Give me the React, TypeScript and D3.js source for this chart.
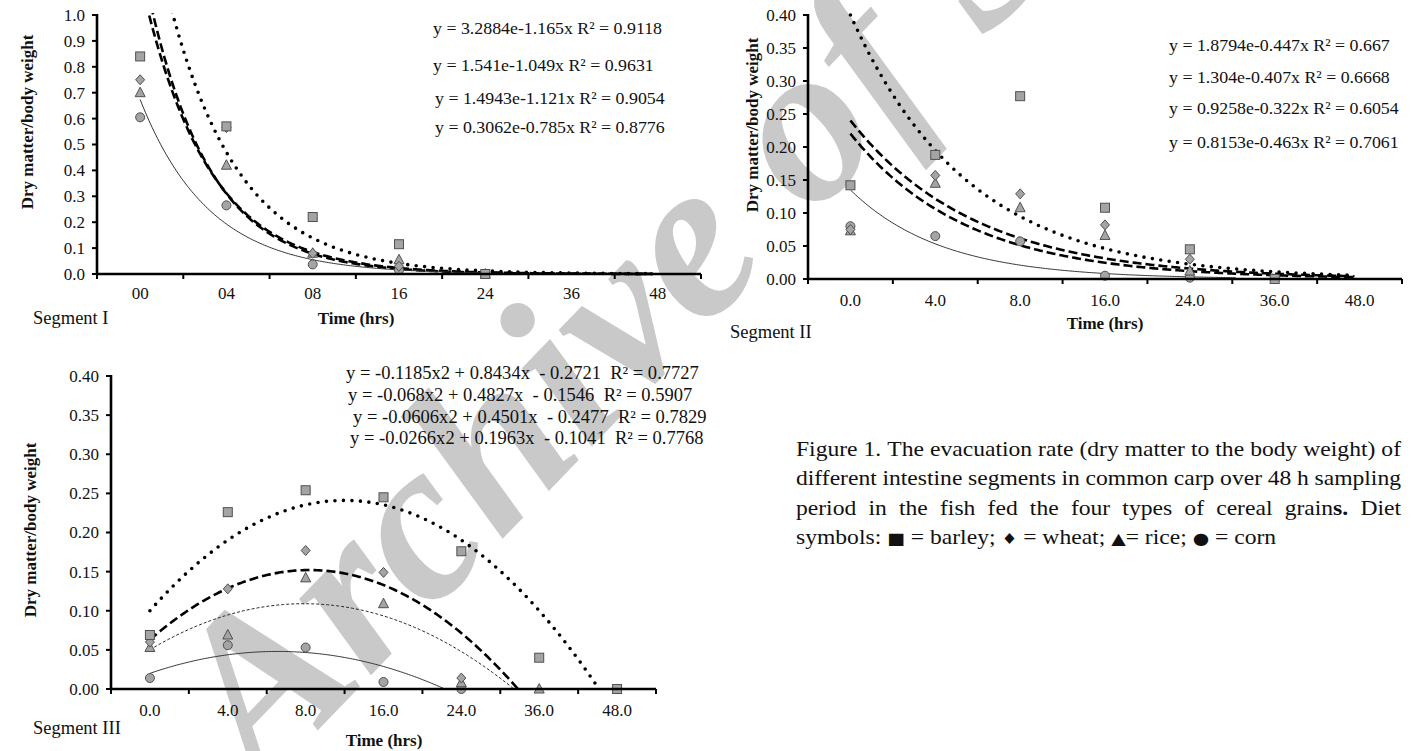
import React, { useLayoutEffect, useRef } from "react";
import * as d3 from "d3";

// ---------- DATA ----------
const catsI = ["00", "04", "08", "16", "24", "36", "48"];
const catsII = ["0.0", "4.0", "8.0", "16.0", "24.0", "36.0", "48.0"];

// Segment I observations (dry matter / body weight)
const barleyI = [0.84, 0.57, 0.22, 0.115, 0.0, null, null];
const wheatI = [0.75, 0.565, 0.08, 0.03, 0.0, null, null];
const riceI = [0.70, 0.42, 0.08, 0.055, 0.0, null, null];
const cornI = [0.605, 0.265, 0.037, 0.015, null, null, null];

// Segment II observations
const barleyII = [0.142, 0.188, 0.277, 0.108, 0.045, 0.0, null];
const wheatII = [0.075, 0.157, 0.129, 0.082, 0.03, null, null];
const riceII = [0.073, 0.145, 0.108, 0.066, 0.012, null, null];
const cornII = [0.08, 0.065, 0.057, 0.005, 0.002, null, null];

// Segment III observations
const barleyIII = [0.069, 0.226, 0.254, 0.245, 0.176, 0.04, 0.0];
const wheatIII = [0.06, 0.128, 0.177, 0.149, 0.014, null, null];
const riceIII = [0.053, 0.069, 0.142, 0.109, 0.008, 0.0, null];
const cornIII = [0.014, 0.056, 0.053, 0.009, 0.0, null, null];

// Exponential trend lines as drawn: y = A * exp(-k * x), x = category index (1..7)
// [A, k, xStart, xEnd]
const trendI_barley = [5.39, 1.22, 1.0, 6.95];
const trendI_wheat = [4.9, 1.38, 1.0, 6.95];
const trendI_rice = [4.2, 1.3, 1.0, 6.95];
const trendI_corn = [2.35, 1.25, 1.0, 5.0];

const trendII_barley = [0.822, 0.72, 1.0, 6.95];
const trendII_wheat = [0.474, 0.68, 1.0, 6.95];
const trendII_rice = [0.457, 0.73, 1.0, 6.95];
const trendII_corn = [0.342, 0.93, 1.0, 5.55];

// Quadratic trend lines as drawn (vertex form): y = a*(x-p)^2 + h  [a, p, h]
const trendIII_barley = [-0.02256, 3.5, 0.241];
const trendIII_wheat = [-0.0212, 3.05, 0.152];
const trendIII_rice = [-0.015, 2.98, 0.109];
const trendIII_corn = [-0.0104, 2.64, 0.048];

const eqI = [
  "y = 3.2884e-1.165x R² = 0.9118",
  "y = 1.541e-1.049x R² = 0.9631",
  "y = 1.4943e-1.121x R² = 0.9054",
  "y = 0.3062e-0.785x R² = 0.8776",
];
const eqII = [
  "y = 1.8794e-0.447x R² = 0.667",
  "y = 1.304e-0.407x R² = 0.6668",
  "y = 0.9258e-0.322x R² = 0.6054",
  "y = 0.8153e-0.463x R² = 0.7061",
];
const eqIII = [
  "y = -0.1185x2 + 0.8434x  - 0.2721  R² = 0.7727",
  "y = -0.068x2 + 0.4827x  - 0.1546  R² = 0.5907",
  "y = -0.0606x2 + 0.4501x  - 0.2477  R² = 0.7829",
  "y = -0.0266x2 + 0.1963x  - 0.1041  R² = 0.7768",
];
const ticksI = [0, 0.1, 0.2, 0.3, 0.4, 0.5, 0.6, 0.7, 0.8, 0.9, 1.0];
const ticksII = [0, 0.05, 0.1, 0.15, 0.2, 0.25, 0.3, 0.35, 0.4];

const captionLines = [
  "Figure 1. The evacuation rate (dry matter to the body weight) of",
  "different intestine segments in common carp over 48 h sampling",
  "period in the fish fed the four types of cereal grains. Diet",
  "symbols: ■ = barley; ♦ = wheat; ▲= rice; ● = corn",
];
const captionSymbols = ["■", "♦", "▲=", "●"];

// ---------- STYLE ----------
const FONT = "'Liberation Serif', 'Times New Roman', serif";
const MFILL = "#a4a4a4";
const MSTROKE = "#505050";

type Style = { w: number; dash: string; cap: string; color: string };
const sDot: Style = { w: 3.6, dash: "0 8.5", cap: "round", color: "#000" };
const sDash: Style = { w: 2.6, dash: "9 4", cap: "butt", color: "#000" };
const sThinDash: Style = { w: 1, dash: "3 2", cap: "butt", color: "#222" };
const sSolid: Style = { w: 1, dash: "", cap: "butt", color: "#333" };

function Marker({ kind, x, y }: { kind: string; x: number; y: number }) {
  if (kind === "sq")
    return <rect x={x - 4.5} y={y - 4.5} width={9} height={9} fill={MFILL} stroke={MSTROKE} strokeWidth={1} />;
  if (kind === "di")
    return <path d={`M${x},${y - 5}L${x + 4.5},${y}L${x},${y + 5}L${x - 4.5},${y}Z`} fill={MFILL} stroke={MSTROKE} strokeWidth={1} />;
  if (kind === "tr")
    return <path d={`M${x},${y - 5.5}L${x + 5},${y + 4}L${x - 5},${y + 4}Z`} fill={MFILL} stroke={MSTROKE} strokeWidth={1} />;
  return <circle cx={x} cy={y} r={4.5} fill={MFILL} stroke={MSTROKE} strokeWidth={1} />;
}

type PanelProps = {
  id: string;
  x0: number; x1: number; yTop: number; yBot: number;
  yMax: number; ticks: number[]; fmt: (v: number) => string;
  cats: string[];
  series: { vals: (number | null)[]; kind: string }[];
  curves: { pts: [number, number][]; style: Style }[];
  labelBase: number;
  segLabel: string; segX: number; segY: number;
  timeX: number; timeY: number;
  ytX: number; ytY: number;
  eqs: string[]; eqX: number[]; eqY: number[]; eqSize: number; eqSx: number;
};

function Panel(p: PanelProps) {
  const x = d3.scaleLinear().domain([0.5, 7.5]).range([p.x0, p.x1]);
  const y = d3.scaleLinear().domain([0, p.yMax]).range([p.yBot, p.yTop]);
  const line = d3.line<[number, number]>().x((d) => x(d[0])).y((d) => y(d[1]));
  const bounds = d3.range(0.5, 7.6, 1);
  return (
    <g>
      <defs>
        <clipPath id={`clip-${p.id}`}>
          <rect x={p.x0} y={p.yTop - 2} width={p.x1 - p.x0} height={p.yBot - p.yTop + 4} />
        </clipPath>
      </defs>
      {p.eqs.map((t, i) => (
        <text key={i} transform={`translate(${p.eqX[i]},${p.eqY[i]}) scale(${p.eqSx},1)`} fontSize={p.eqSize}
          fontFamily={FONT} fill="#111" style={{ whiteSpace: "pre" }}>
          {t}
        </text>
      ))}
      <g clipPath={`url(#clip-${p.id})`}>
        {p.curves.map((c, i) => (
          <path key={i} d={line(c.pts) || ""} fill="none" stroke={c.style.color} strokeWidth={c.style.w}
            strokeDasharray={c.style.dash} strokeLinecap={c.style.cap as any} />
        ))}
      </g>
      {p.series.map((s, si) =>
        s.vals.map((v, i) => (v === null ? null : <Marker key={`${si}-${i}`} kind={s.kind} x={x(i + 1)} y={y(v)} />))
      )}
      <line x1={p.x0} x2={p.x1} y1={p.yBot} y2={p.yBot} stroke="#000" strokeWidth={2.6} />
      <line x1={p.x0} x2={p.x0} y1={p.yTop - 1} y2={p.yBot} stroke="#000" strokeWidth={2.6} />
      {bounds.map((b, i) => (
        <line key={i} x1={x(b)} x2={x(b)} y1={p.yBot} y2={p.yBot + 5} stroke="#000" strokeWidth={2} />
      ))}
      {p.ticks.map((t, i) => (
        <g key={i}>
          <line x1={p.x0 - 5} x2={p.x0} y1={y(t)} y2={y(t)} stroke="#000" strokeWidth={2} />
          <text x={p.x0 - 12} y={y(t)} dy="0.35em" textAnchor="end" fontSize={17} fontFamily={FONT} fill="#111">
            {p.fmt(t)}
          </text>
        </g>
      ))}
      {p.cats.map((c, i) => (
        <text key={i} x={x(i + 1)} y={p.labelBase} textAnchor="middle" fontSize={17} fontFamily={FONT} fill="#111">
          {c}
        </text>
      ))}
      <text x={p.segX} y={p.segY} dy="0.35em" fontSize={18.5} fontFamily={FONT} fill="#111">{p.segLabel}</text>
      <text x={p.timeX} y={p.timeY} dy="0.35em" textAnchor="middle" fontSize={17} fontWeight="bold" fontFamily={FONT} fill="#111">
        Time (hrs)
      </text>
      <text transform={`translate(${p.ytX},${p.ytY}) rotate(-90)`} dy="0.35em" textAnchor="middle" fontSize={17}
        fontWeight="bold" fontFamily={FONT} fill="#111">
        Dry matter/body weight
      </text>
    </g>
  );
}

function expCurve(t: number[]): [number, number][] {
  const [A, k, a, b] = t;
  return d3.range(a, b + 0.001, 0.02).map((xx) => [xx, A * Math.exp(-k * xx)] as [number, number]);
}
function quadCurve(t: number[]): [number, number][] {
  const [a, p, h] = t;
  const root = p + Math.sqrt(-h / a);
  const pts = d3.range(1, root, 0.02).map((xx) => [xx, a * (xx - p) * (xx - p) + h] as [number, number]);
  pts.push([root, 0]);
  return pts;
}

// caption layout
const CAP_X = 796;
const CAP_W = 605;
const CAP_Y0 = 456;
const CAP_DY = 29.3;
const CAP_SIZE = 20;
const CAP_SX = 1.18;

function Word({ w }: { w: string }) {
  if (w === "grains.")
    return (
      <>
        grain<tspan fontWeight="bold">s.</tspan>
      </>
    );
  if (captionSymbols.includes(w)) {
    const sym = w[0];
    const rest = w.slice(1);
    const size = sym === "♦" ? 15 : sym === "▲" ? 16 : 16;
    return (
      <>
        <tspan fontSize={size} fontFamily="'DejaVu Sans', sans-serif">{sym}</tspan>
        {rest ? <tspan>{rest}</tspan> : null}
      </>
    );
  }
  return <>{w}</>;
}

function Caption() {
  const ref = useRef<SVGGElement>(null);
  useLayoutEffect(() => {
    if (!ref.current) return;
    const lines = d3.select(ref.current).selectAll<SVGGElement, unknown>("g.cl").nodes();
    lines.forEach((ln, i) => {
      const words = Array.from(ln.querySelectorAll(":scope > text")) as SVGTextElement[];
      const widths = words.map((w) => w.getComputedTextLength());
      const total = d3.sum(widths);
      const justify = i < captionLines.length - 1;
      const gap = justify ? (CAP_W / CAP_SX - total) / (words.length - 1) : CAP_SIZE * 0.25;
      let xx = 0;
      words.forEach((w, j) => {
        w.setAttribute("x", String(xx));
        xx += widths[j] + gap;
      });
    });
  }, []);
  return (
    <g ref={ref}>
      {captionLines.map((t, i) => (
        <g className="cl" key={i} transform={`translate(${CAP_X},${CAP_Y0 + i * CAP_DY}) scale(${CAP_SX},1)`}>
          {t.split(" ").map((w, j) => (
            <text key={j} x={0} y={0} fontSize={CAP_SIZE} fontFamily={FONT} fill="#111">
              <Word w={w} />
            </text>
          ))}
        </g>
      ))}
    </g>
  );
}

export default function App() {
  return (
    <svg width={1414} height={751} style={{ position: "absolute", left: 0, top: 0, background: "#fff" }}>
      <rect width={1414} height={751} fill="#fff" />
      {/* watermark */}
      <text transform="translate(262,788) rotate(-46)" fontSize={228} fontStyle="italic" fontWeight="bold"
        fontFamily={FONT} fill="#c9c9c9">
        Archive of SID
      </text>

      <Panel id="p1" x0={97} x1={701} yTop={15} yBot={274} yMax={1.0} ticks={ticksI} fmt={(v) => v.toFixed(1)}
        cats={catsI}
        series={[
          { vals: cornI, kind: "ci" },
          { vals: riceI, kind: "tr" },
          { vals: wheatI, kind: "di" },
          { vals: barleyI, kind: "sq" },
        ]}
        curves={[
          { pts: expCurve(trendI_barley), style: sDot },
          { pts: expCurve(trendI_wheat), style: sDash },
          { pts: expCurve(trendI_rice), style: sDash },
          { pts: expCurve(trendI_corn), style: sSolid },
        ]}
        labelBase={299} segLabel="Segment I" segX={33} segY={318} timeX={356} timeY={318}
        ytX={27} ytY={122}
        eqs={eqI} eqX={[433, 433, 435, 435]} eqY={[34, 71, 104, 133]} eqSize={17} eqSx={1.05} />

      <Panel id="p2" x0={808} x1={1402} yTop={15} yBot={279} yMax={0.4} ticks={ticksII} fmt={(v) => v.toFixed(2)}
        cats={catsII}
        series={[
          { vals: cornII, kind: "ci" },
          { vals: riceII, kind: "tr" },
          { vals: wheatII, kind: "di" },
          { vals: barleyII, kind: "sq" },
        ]}
        curves={[
          { pts: expCurve(trendII_barley), style: sDot },
          { pts: expCurve(trendII_wheat), style: sDash },
          { pts: expCurve(trendII_rice), style: sDash },
          { pts: expCurve(trendII_corn), style: sSolid },
        ]}
        labelBase={306} segLabel="Segment II" segX={730} segY={332} timeX={1105} timeY={323}
        ytX={752} ytY={125}
        eqs={eqII} eqX={[1169, 1169, 1169, 1169]} eqY={[51, 83, 114, 148]} eqSize={17} eqSx={1.05} />

      <Panel id="p3" x0={111} x1={656} yTop={376} yBot={689} yMax={0.4} ticks={ticksII} fmt={(v) => v.toFixed(2)}
        cats={catsII}
        series={[
          { vals: cornIII, kind: "ci" },
          { vals: riceIII, kind: "tr" },
          { vals: wheatIII, kind: "di" },
          { vals: barleyIII, kind: "sq" },
        ]}
        curves={[
          { pts: quadCurve(trendIII_barley), style: sDot },
          { pts: quadCurve(trendIII_wheat), style: sDash },
          { pts: quadCurve(trendIII_rice), style: sThinDash },
          { pts: quadCurve(trendIII_corn), style: sSolid },
        ]}
        labelBase={716} segLabel="Segment III" segX={33} segY={728} timeX={384} timeY={740}
        ytX={30} ytY={530}
        eqs={eqIII} eqX={[346, 348, 353, 350]} eqY={[379, 401, 423, 444]} eqSize={18} eqSx={1.03} />

      <Caption />
    </svg>
  );
}
